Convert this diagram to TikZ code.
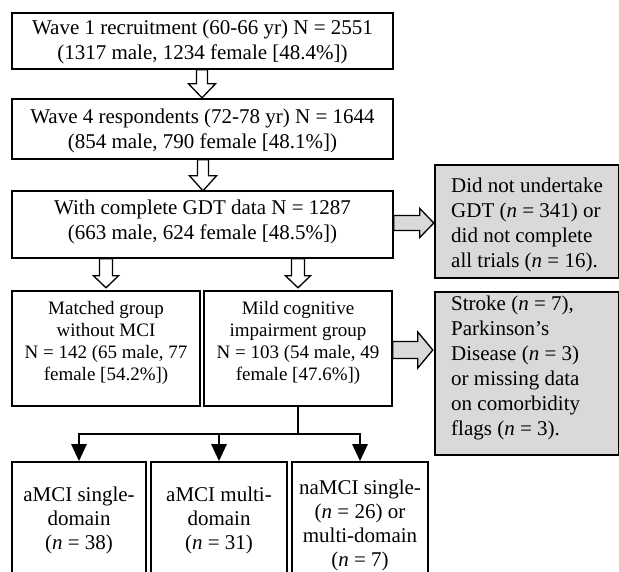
\documentclass[tikz,border=0pt]{standalone}
\usepackage{fontspec}
\setmainfont{Liberation Serif}
\usetikzlibrary{arrows.meta}
\tikzset{
  box/.style={draw=black, line width=1.6pt, fill=white, inner sep=0pt, minimum width=#1},
  greybox/.style={draw=black, line width=1.6pt, fill=gray!30, inner sep=0pt, minimum width=#1},
  bigtxt/.style={inner sep=0pt, align=center, font=\fontsize{21}{25}\selectfont},
  midtxt/.style={inner sep=0pt, align=center, font=\fontsize{19}{22}\selectfont},
  lowtxt/.style={inner sep=0pt, align=center, font=\fontsize{21}{24}\selectfont},
  greytxt/.style={inner sep=0pt, align=left, anchor=west, font=\fontsize{21}{25}\selectfont},
  hollow/.style={draw=black, line width=1.3pt, fill=white, line join=miter},
  greyarrow/.style={draw=black, line width=1.3pt, fill=gray!30, line join=miter},
  conn/.style={draw=black, line width=2.6pt},
  conntip/.style={conn, -{Triangle[width=15pt,length=17pt]}},
}
\begin{document}
\begin{tikzpicture}[x=1pt,y=-1pt]
\useasboundingbox (0,0) rectangle (619,572);
\clip (0,0) rectangle (619,572);
\fill[white] (0,0) rectangle (619,572);

% top column
\node[box=381pt, minimum height=56pt] (b1) at (202.5,41) {};
\node[bigtxt] (t1) at (202.5,42) {Wave 1 recruitment (60-66 yr) N = 2551\\(1317 male, 1234 female [48.4\%])};
\node[box=381pt, minimum height=60pt] (b2) at (202.5,129) {};
\node[bigtxt] (t2) at (202.5,131) {Wave 4 respondents (72-78 yr) N = 1644\\(854 male, 790 female [48.1\%])};
\node[box=381pt, minimum height=67pt] (b3) at (202.5,224.5) {};
\node[bigtxt] (t3) at (202.5,222) {With complete GDT data N = 1287\\(663 male, 624 female [48.5\%])};

% second row
\node[box=188pt, minimum height=115pt] (m1) at (106,348.5) {};
\node[midtxt] (tm1) at (106,343) {Matched group\\without MCI\\N = 142 (65 male, 77\\female [54.2\%])};
\node[box=188pt, minimum height=115pt] (m2) at (298,348.5) {};
\node[midtxt] (tm2) at (298,343) {Mild cognitive\\impairment group\\N = 103 (54 male, 49\\female [47.6\%])};

% grey exclusion boxes
\node[greybox=183.5pt, minimum height=113pt] (g1) at (526.75,221.5) {};
\node[greytxt] (tg1) at (451,224.5) {Did not undertake\\GDT (\textit{n} = 341) or\\did not complete\\all trials (\textit{n} = 16).};
\node[greybox=183.5pt, minimum height=163pt] (g2) at (526.75,373.5) {};
\node[greytxt] (tg2) at (451,367.5) {Stroke (\textit{n} = 7),\\Parkinson’s\\Disease (\textit{n} = 3)\\or missing data\\on comorbidity\\flags (\textit{n} = 3).};

% bottom row (cut off by page edge)
\node[box=134pt, minimum height=140pt] (a1) at (79,532) {};
\node[lowtxt] (ta1) at (79,520) {aMCI single-\\domain\\(\textit{n} = 38)};
\node[box=136pt, minimum height=140pt] (a2) at (219,532) {};
\node[lowtxt] (ta2) at (219,520) {aMCI multi-\\domain\\(\textit{n} = 31)};
\node[box=136pt, minimum height=140pt] (a3) at (360,532) {};
\node[lowtxt] (ta3) at (360,525) {naMCI single-\\(\textit{n} = 26) or\\multi-domain\\(\textit{n} = 7)};

% hollow down arrows
\draw[hollow] ([xshift=-0.5pt]b1.south) ++(-5.5,0) -- ++(0,14) -- ++(-8,0) -- ++(13.5,14) -- ++(13.5,-14) -- ++(-8,0) -- ++(0,-14) -- cycle;
\draw[hollow] ([xshift=0.5pt]b2.south) ++(-5.5,0) -- ++(0,16) -- ++(-8,0) -- ++(13.5,15) -- ++(13.5,-15) -- ++(-8,0) -- ++(0,-16) -- cycle;
\draw[hollow] (b3.south -| m1.north) ++(-6.5,0) -- ++(0,17) -- ++(-6,0) -- ++(12.5,12) -- ++(12.5,-12) -- ++(-6,0) -- ++(0,-17) -- cycle;
\draw[hollow] (b3.south -| m2.north) ++(-6.5,0) -- ++(0,17) -- ++(-6,0) -- ++(12.5,12) -- ++(12.5,-12) -- ++(-6,0) -- ++(0,-17) -- cycle;

% grey right arrows
\draw[greyarrow] ([yshift=1.5pt]b3.east) ++(0,-7.5) -- ++(26,0) -- ++(0,-7) -- ++(14,14.5) -- ++(-14,14.5) -- ++(0,-7) -- ++(-26,0) -- cycle;
\draw[greyarrow] ([yshift=-1.5pt]m2.east) ++(0,-8.5) -- ++(25,0) -- ++(0,-9.5) -- ++(15,18) -- ++(-15,18) -- ++(0,-9.5) -- ++(-25,0) -- cycle;

% tree connector
\draw[conn] (m2.south) -- ++(0,27) coordinate (j);
\draw[conntip] (j) -| (a1.north);
\draw[conntip] (j) -| (a2.north);
\draw[conntip] (j) -| (a3.north);
\end{tikzpicture}
\end{document}
